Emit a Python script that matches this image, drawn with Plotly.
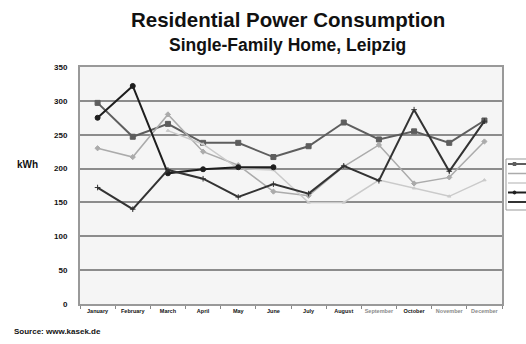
import plotly.graph_objects as go

# Monthly consumption in kWh, one series per year
months = ["January", "February", "March", "April", "May", "June", "July",
          "August", "September", "October", "November", "December"]
year_names = ["2002", "2003", "2004", "2006", "2005"]
kwh_2002 = [297, 247, 266, 238, 238, 217, 233, 268, 243, 255, 238, 271]
kwh_2003 = [230, 217, 280, 225, 205, 166, 160, 203, 235, 178, 187, 240]
kwh_2004 = [None, None, 256, 236, 200, 198, 150, 150, 183, 171, 159, 183]
kwh_2006 = [275, 322, 193, 199, 202, 202, None, None, None, None, None, None]
kwh_2005 = [172, 140, 198, 185, 158, 177, 163, 204, 182, 287, 196, 270]
y_ticks = [0, 50, 100, 150, 200, 250, 300, 350]

series = [kwh_2002, kwh_2003, kwh_2004, kwh_2006, kwh_2005]
styles = [
    dict(color="#5e5e5e", width=2.0, symbol="square", msize=5),
    dict(color="#ababab", width=1.5, symbol="diamond", msize=4),
    dict(color="#cacaca", width=1.5, symbol="triangle-up", msize=3),
    dict(color="#1e1e1e", width=2.0, symbol="circle", msize=5),
    dict(color="#333333", width=2.0, symbol="cross-thin", msize=4),
]

fig = go.Figure()
for name, vals, st in zip(year_names, series, styles):
    fig.add_trace(go.Scatter(
        x=months, y=vals, name=name, mode="lines+markers",
        line=dict(color=st["color"], width=st["width"]),
        marker=dict(symbol=st["symbol"], size=st["msize"], color=st["color"],
                    line=dict(color=st["color"], width=1)),
        connectgaps=False, showlegend=False,
    ))

# plot area in pixels
L, R, T, B = 80, 502, 67, 304
W, H = 526, 344


def px(x):
    return (x - L) / (R - L)


def py(y):
    return (B - y) / (B - T)


# small legend key at the right edge of the page
shapes = [dict(type="rect", xref="paper", yref="paper",
               x0=px(506), x1=px(545), y0=py(210), y1=py(159),
               line=dict(color="#999999", width=1), fillcolor="white", layer="above")]
rows = [164, 173.5, 183, 192.5, 202]
for st, ry in zip(styles, rows):
    shapes.append(dict(type="line", xref="paper", yref="paper",
                       x0=px(508), x1=px(526), y0=py(ry), y1=py(ry),
                       line=dict(color=st["color"], width=st["width"]), layer="above"))
    if st["symbol"] == "square":
        shapes.append(dict(type="rect", xref="paper", yref="paper",
                           x0=px(513), x1=px(516), y0=py(ry + 1.5), y1=py(ry - 1.5),
                           line=dict(color=st["color"], width=1), fillcolor=st["color"],
                           layer="above"))
    elif st["symbol"] == "circle":
        shapes.append(dict(type="circle", xref="paper", yref="paper",
                           x0=px(513), x1=px(516), y0=py(ry + 1.5), y1=py(ry - 1.5),
                           line=dict(color=st["color"], width=1), fillcolor=st["color"],
                           layer="above"))

# titles and captions
annotations = [
    dict(xref="paper", yref="paper", x=px(288), y=py(20), text="<b>Residential Power Consumption</b>",
         showarrow=False, xanchor="center", yanchor="middle",
         font=dict(size=20.5, color="#111111", family="Liberation Sans")),
    dict(xref="paper", yref="paper", x=px(287), y=py(45), text="<b>Single-Family Home, Leipzig</b>",
         showarrow=False, xanchor="center", yanchor="middle",
         font=dict(size=17.5, color="#111111", family="Liberation Sans")),
    dict(xref="paper", yref="paper", x=px(27), y=py(164), text="<b>kWh</b>",
         showarrow=False, xanchor="center", yanchor="middle",
         font=dict(size=10, color="#111111", family="Liberation Sans")),
    dict(xref="paper", yref="paper", x=px(12), y=py(331), text="<b>Source: www.kasek.de</b>",
         showarrow=False, xanchor="left", yanchor="middle",
         font=dict(size=8, color="#111111", family="Liberation Sans")),
]

tick_text = []
for m in months:
    if m in ("September", "November", "December"):
        tick_text.append(f"<span style='color:#8a8a8a'>{m}</span>")
    else:
        tick_text.append(m)

fig.update_layout(
    width=W, height=H,
    margin=dict(l=L, r=W - R, t=T, b=H - B, pad=0),
    paper_bgcolor="white",
    plot_bgcolor="#f5f5f5",
    showlegend=False,
    shapes=shapes,
    annotations=annotations,
    font=dict(family="Liberation Sans", color="#111111"),
)
fig.update_xaxes(
    type="category", categoryorder="array", categoryarray=months,
    tickmode="array", tickvals=months, ticktext=tick_text, tickangle=0,
    tickson="boundaries", ticks="outside", ticklen=3, tickcolor="#888888", tickwidth=1,
    showgrid=False, showline=True, linecolor="#999999", linewidth=2, mirror=True,
    tickfont=dict(size=5.5, weight="bold", color="#111111"),
    range=[-0.5, 11.5], fixedrange=True,
)
fig.update_yaxes(
    range=[0, 350], tickmode="array", tickvals=y_ticks,
    showgrid=True, gridcolor="#8c8c8c", gridwidth=1.5,
    showline=True, linecolor="#999999", linewidth=2, mirror=True,
    ticks="", ticklabelstandoff=9, zeroline=False,
    tickfont=dict(size=8, weight="bold", color="#111111"),
    fixedrange=True,
)

fig.write_html("out.html", config=dict(displayModeBar=False))
